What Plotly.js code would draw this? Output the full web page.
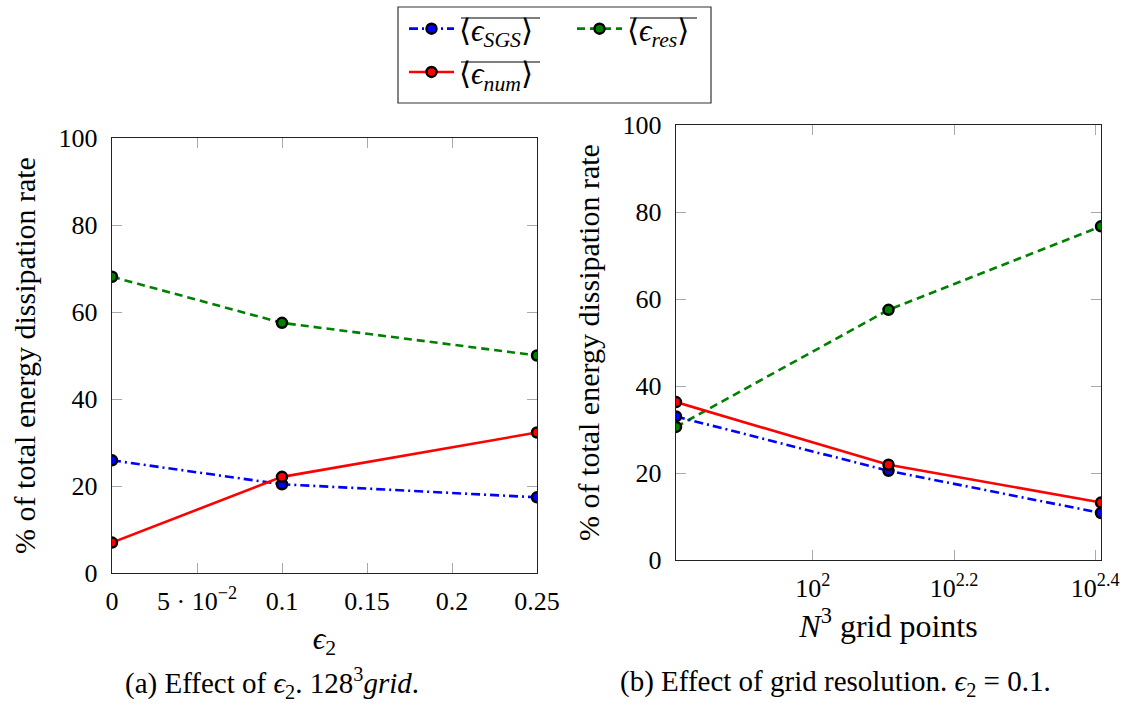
<!DOCTYPE html>
<html>
<head>
<meta charset="utf-8">
<script src="https://cdn.plot.ly/plotly-3.0.1.min.js"></script>
<style>html,body{margin:0;padding:0;background:#fff;}</style>
</head>
<body>
<div id="chart" style="width:1133px;height:703px;"></div>
<script>
// ---- data ----
const eps2 = [0, 0.1, 0.25];
const sgsA = [25.9, 20.4, 17.4];
const numA = [7.0, 22.1, 32.3];
const resA = [68.1, 57.5, 50.0];

const gridN = [64, 128, 256];
const sgsB = [33.0, 20.5, 10.8];
const numB = [36.3, 21.9, 13.2];
const resB = [30.6, 57.5, 76.7];

const xTickValsA = [0, 0.05, 0.1, 0.15, 0.2, 0.25];
const xTickTextA = ['0', '5 · 10<sup>−2</sup>', '0.1', '0.15', '0.2', '0.25'];
const xTickValsB = [100, 158.489, 251.189];
const xTickTextB = ['10<sup>2</sup>', '10<sup>2.2</sup>', '10<sup>2.4</sup>'];
const yTickVals = [0, 20, 40, 60, 80, 100];

const nameSGS = '⟨<i>ϵ</i><sub><i>SGS</i></sub>⟩';
const nameNum = '⟨<i>ϵ</i><sub><i>num</i></sub>⟩';
const nameRes = '⟨<i>ϵ</i><sub><i>res</i></sub>⟩';

// ---- layout geometry (pixels) ----
const W = 1133, H = 703;
const ML = 112, MR = 32, MT = 125, MB = 130;
const PW = W - ML - MR, PH = H - MT - MB;
const px = x => (x - ML) / PW;
const py = y => (H - MB - y) / PH;

const FONT = 'Liberation Serif, DejaVu Serif, serif';
const BLUE = '#0000ff', RED = '#ff0000', GREEN = '#008000';

function mk(color) { return {size: 10, color: color, line: {color: '#000', width: 2.5}}; }

const traces = [
  {x: eps2, y: sgsA, xaxis: 'x', yaxis: 'y', mode: 'lines+markers', name: nameSGS, legend: 'legend',
   line: {color: BLUE, width: 2.6, dash: '9px,4px,2px,4px'}, marker: mk(BLUE)},
  {x: eps2, y: resA, xaxis: 'x', yaxis: 'y', mode: 'lines+markers', name: nameRes, legend: 'legend2',
   line: {color: GREEN, width: 2.6, dash: '8px,5px'}, marker: mk(GREEN)},
  {x: eps2, y: numA, xaxis: 'x', yaxis: 'y', mode: 'lines+markers', name: nameNum, legend: 'legend',
   line: {color: RED, width: 2.6}, marker: mk(RED)},
  {x: gridN, y: resB, xaxis: 'x2', yaxis: 'y2', mode: 'lines+markers', name: nameRes, showlegend: false,
   line: {color: GREEN, width: 2.6, dash: '8px,5px'}, marker: mk(GREEN)},
  {x: gridN, y: sgsB, xaxis: 'x2', yaxis: 'y2', mode: 'lines+markers', name: nameSGS, showlegend: false,
   line: {color: BLUE, width: 2.6, dash: '9px,4px,2px,4px'}, marker: mk(BLUE)},
  {x: gridN, y: numB, xaxis: 'x2', yaxis: 'y2', mode: 'lines+markers', name: nameNum, showlegend: false,
   line: {color: RED, width: 2.6}, marker: mk(RED)}
];

const axCommon = {
  showgrid: false, zeroline: false, showline: true, linecolor: '#222', linewidth: 1.2,
  mirror: 'ticks', ticks: 'inside', ticklen: 10, tickcolor: '#aaa', tickwidth: 1,
  tickfont: {family: FONT, size: 26, color: '#000'}, automargin: false
};
const yTitle = '% of total energy dissipation rate';

function overline(x0, x1, y) {
  return {type: 'line', xref: 'paper', yref: 'paper', x0: px(x0), x1: px(x1), y0: py(y), y1: py(y),
          line: {color: '#000', width: 1.2}, layer: 'above'};
}

const layout = {
  width: W, height: H,
  margin: {l: ML, r: MR, t: MT, b: MB, autoexpand: false},
  paper_bgcolor: '#fff', plot_bgcolor: '#fff',
  font: {family: FONT, size: 26, color: '#000'},
  xaxis: Object.assign({}, axCommon, {
    domain: [0, px(537)], range: [0, 0.25], anchor: 'y',
    tickmode: 'array', tickvals: xTickValsA, ticktext: xTickTextA, ticklabelstandoff: 5,
    title: {text: '<i>ϵ</i><sub>2</sub>', font: {family: FONT, size: 31}, standoff: 11}
  }),
  yaxis: Object.assign({}, axCommon, {
    domain: [0, py(138)], range: [0, 100], anchor: 'x',
    tickmode: 'array', tickvals: yTickVals, ticklabelstandoff: 8,
    title: {text: yTitle, font: {family: FONT, size: 30}, standoff: 14}
  }),
  xaxis2: Object.assign({}, axCommon, {
    domain: [px(676), 1], type: 'log', range: [Math.log10(64), Math.log10(256)], anchor: 'y2',
    tickmode: 'array', tickvals: xTickValsB, ticktext: xTickTextB, ticklabelstandoff: 5,
    title: {text: '<i>N</i><sup>3</sup> grid points', font: {family: FONT, size: 32}, standoff: 11}
  }),
  yaxis2: Object.assign({}, axCommon, {
    domain: [py(560), 1], range: [0, 100], anchor: 'x2',
    tickmode: 'array', tickvals: yTickVals, ticklabelstandoff: 8,
    title: {text: yTitle, font: {family: FONT, size: 30}, standoff: 14}
  }),
  legend: {
    x: px(404), y: py(2), xanchor: 'left', yanchor: 'top', orientation: 'v',
    bgcolor: 'rgba(0,0,0,0)', borderwidth: 0, itemwidth: 45, tracegroupgap: 0,
    font: {family: FONT, size: 31, color: '#000'}, traceorder: 'normal'
  },
  legend2: {
    x: px(572), y: py(2), xanchor: 'left', yanchor: 'top', orientation: 'v',
    bgcolor: 'rgba(0,0,0,0)', borderwidth: 0, itemwidth: 45,
    font: {family: FONT, size: 31, color: '#000'}
  },
  shapes: [
    {type: 'rect', xref: 'paper', yref: 'paper', x0: px(398), x1: px(711), y0: py(103), y1: py(7),
     line: {color: '#333', width: 1.2}, fillcolor: 'rgba(0,0,0,0)', layer: 'above'},
    overline(461, 540, 18),
    overline(630, 697, 18),
    overline(461, 540, 62)
  ],
  annotations: [
    {xref: 'paper', yref: 'paper', x: px(272), y: py(683), xanchor: 'center', yanchor: 'middle', showarrow: false,
     text: '(a) Effect of <i>ϵ</i><sub>2</sub>. 128<sup>3</sup><i>grid</i>.', font: {family: FONT, size: 29}},
    {xref: 'paper', yref: 'paper', x: px(835), y: py(683), xanchor: 'center', yanchor: 'middle', showarrow: false,
     text: '(b) Effect of grid resolution. <i>ϵ</i><sub>2</sub> = 0.1.', font: {family: FONT, size: 29}}
  ]
};

Plotly.newPlot('chart', traces, layout, {displayModeBar: false, staticPlot: true});
</script>
</body>
</html>
